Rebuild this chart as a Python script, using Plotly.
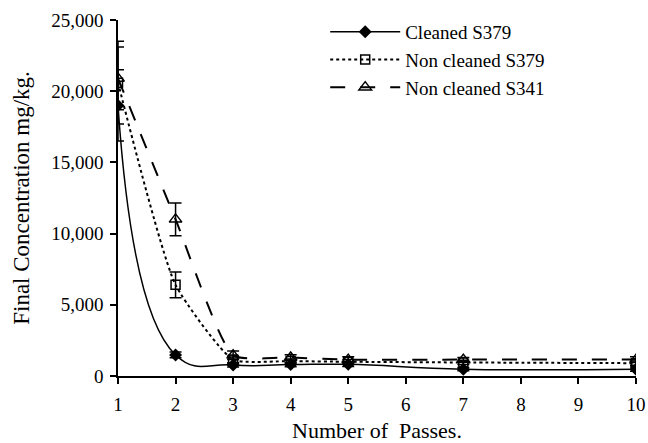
import plotly.graph_objects as go

passes = [1, 2, 3, 4, 5, 7, 10]
cleaned_s379 = [19000, 1480, 780, 800, 820, 480, 480]
cleaned_err = [2500, 200, 150, 150, 150, 120, 150]
noncleaned_s379 = [20600, 6400, 1150, 1050, 1000, 950, 900]
noncleaned_s379_err = [2900, 900, 250, 150, 150, 150, 150]
noncleaned_s341 = [20900, 11000, 1450, 1300, 1150, 1150, 1150]
noncleaned_s341_err = [2200, 1150, 300, 200, 200, 150, 200]

font = "'Liberation Serif', 'Times New Roman', serif"

def err(arr):
    return dict(type="data", array=arr, visible=True, color="black", thickness=1.5, width=6)

fig = go.Figure()
fig.add_trace(go.Scatter(
    x=passes, y=cleaned_s379, name="Cleaned S379", mode="lines+markers",
    line=dict(color="black", width=1.5, shape="spline", smoothing=1.3),
    marker=dict(symbol="diamond", size=10, color="black"),
    error_y=err(cleaned_err)))
fig.add_trace(go.Scatter(
    x=passes, y=noncleaned_s379, name="Non cleaned S379", mode="lines+markers",
    line=dict(color="black", width=2, dash="dot", shape="spline", smoothing=0.5),
    marker=dict(symbol="square-open", size=9, color="black", line=dict(width=1.5)),
    error_y=err(noncleaned_s379_err)))
fig.add_trace(go.Scatter(
    x=passes, y=noncleaned_s341, name="Non cleaned S341", mode="lines+markers",
    line=dict(color="black", width=2, dash="longdash", shape="spline", smoothing=0.5),
    marker=dict(symbol="triangle-up-open", size=11, color="black", line=dict(width=1.5)),
    error_y=err(noncleaned_s341_err)))

fig.update_layout(
    width=648, height=443,
    margin=dict(l=118, r=12, t=20, b=67),
    paper_bgcolor="white", plot_bgcolor="white",
    font=dict(family=font, size=19, color="black"),
    showlegend=True,
    legend=dict(x=0.40, y=1.02, xanchor="left", yanchor="top",
                bgcolor="rgba(0,0,0,0)", itemwidth=70,
                font=dict(family=font, size=19), tracegroupgap=10),
    xaxis=dict(range=[1, 10], tickvals=list(range(1, 11)),
               showline=True, linecolor="black", linewidth=1.5,
               ticks="outside", ticklen=6, tickcolor="black", tickwidth=1.5,
               ticklabelstandoff=4, automargin=False,
               showgrid=False, zeroline=False,
               title=dict(text="Number of  Passes.", font=dict(family=font, size=22))),
    yaxis=dict(range=[0, 25000], tickvals=[0, 5000, 10000, 15000, 20000, 25000],
               tickformat=",d",
               showline=True, linecolor="black", linewidth=1.5,
               ticks="outside", ticklen=6, tickcolor="black", tickwidth=1.5,
               ticklabelstandoff=3, automargin=False,
               showgrid=False, zeroline=False,
               title=dict(text="Final Concentration mg/kg.", font=dict(family=font, size=23))),
)

fig.write_html("out.html")
